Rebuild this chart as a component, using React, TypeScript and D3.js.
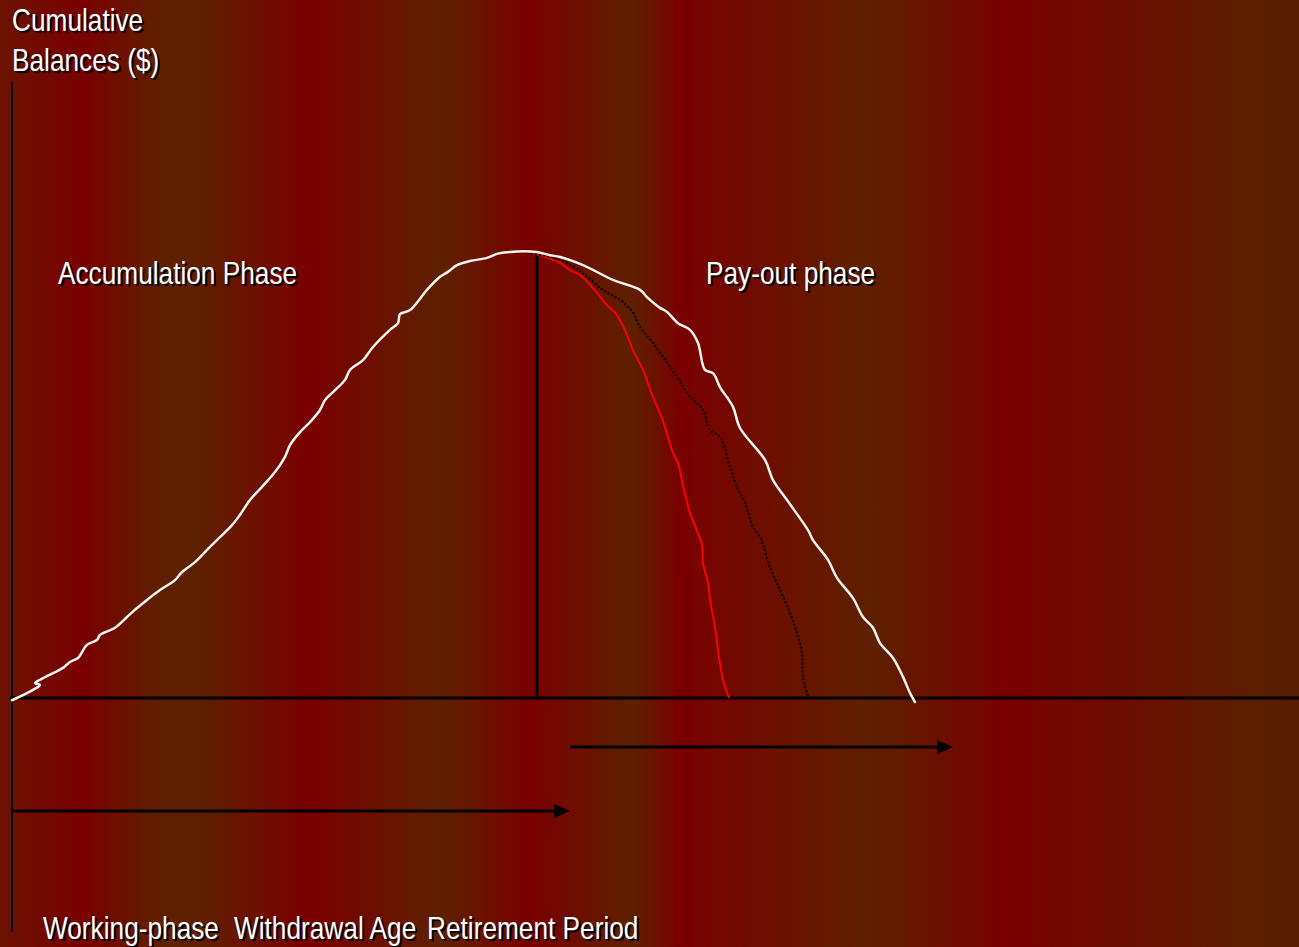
import React from "react";
import * as d3 from "d3";

const W = 1299;
const H = 947;

// Data: x = years since start of working life, y = cumulative balance (index, peak ≈ 100)
const accumulationAndPayout: [number, number][] = [
  [0, -0.5], [0.5, 0], [2.1, 1.8], [2.8, 2.9], [2.3, 3.3], [3.1, 4.4], [5.1, 6.7], [5.8, 8.0],
  [6.6, 8.9], [7.5, 11.8], [8.5, 12.9], [8.8, 14.0], [10.3, 15.6], [11.5, 18.0], [12.5, 20.0],
  [13.5, 21.8], [14.8, 24.0], [16.3, 26.2], [17.0, 28.0], [18.3, 30.2], [19.8, 33.6], [20.5, 35.1],
  [22.0, 38.4], [22.8, 40.7], [23.8, 44.0], [25.0, 46.9], [26.3, 50.2], [27.3, 53.6], [27.8, 56.2],
  [28.8, 59.1], [29.8, 61.3], [30.8, 64.0], [31.3, 66.2], [32.3, 68.4], [33.3, 70.7], [33.8, 72.9],
  [35.1, 75.1], [36.1, 78.0], [37.8, 81.8], [38.6, 83.3], [38.8, 85.3], [39.8, 86.2], [41.5, 90.7],
  [42.8, 93.6], [43.6, 94.7], [44.5, 96.2], [45.8, 97.1], [47.5, 97.8], [48.5, 98.7], [49.8, 99.1],
  [51.1, 99.3], [52.5, 99.1], [53.8, 98.4], [54.8, 98.0], [57.1, 96.2], [60.1, 92.9], [62.8, 90.7],
  [63.5, 89.1], [64.8, 86.7], [65.5, 85.8], [66.6, 83.3], [67.8, 81.8], [68.6, 78.9], [69.3, 72.9],
  [70.1, 72.2], [70.8, 69.1], [72.1, 64.7], [72.8, 60.0], [75.3, 52.9], [76.1, 48.4], [77.5, 44.0],
  [79.6, 37.3], [80.1, 35.1], [81.6, 30.7], [82.5, 26.7], [84.1, 22.2], [85.1, 18.0], [86.1, 15.6],
  [86.8, 12.2], [88.1, 8.9], [89.1, 4.7], [89.8, 1.1], [90.3, -0.9],
];

const fastDepletion: [number, number][] = [
  [51.8, 99.1], [52.8, 98.4], [54.8, 96.7], [55.8, 95.1], [56.8, 94.0], [58.1, 91.1], [59.5, 87.3],
  [60.5, 85.1], [61.5, 80.7], [62.1, 77.3], [63.1, 72.9], [64.1, 66.9], [65.0, 62.2], [65.3, 60.2],
  [66.1, 54.4], [66.6, 52.2], [67.1, 47.3], [67.8, 41.1], [69.0, 34.0], [69.1, 30.0], [69.6, 25.6],
  [69.8, 21.8], [70.3, 15.8], [70.6, 10.7], [71.1, 4.0], [71.7, 0],
];

const mediumDepletion: [number, number][] = [
  [51.5, 98.9], [53.8, 98.0], [55.5, 96.7], [57.1, 94.4], [59.1, 90.7], [61.1, 88.0], [62.1, 85.6],
  [62.8, 82.4], [64.1, 78.9], [65.8, 73.6], [67.8, 66.9], [69.1, 64.0], [69.8, 59.6], [70.8, 58.0],
  [71.8, 51.3], [72.5, 46.9], [73.3, 43.3], [74.1, 38.0], [74.8, 35.8], [75.8, 29.1], [76.8, 24.0],
  [77.8, 18.9], [78.5, 14.4], [79.0, 10.0], [79.1, 4.7], [79.6, 0.2],
];

const withdrawalAge = 52.5;
const peakBalance = 98.9;
const workingPhaseEnd = 55.8;
const retirementEnd = 94.1;

const yAxisTitle = ["Cumulative", "Balances ($)"];
const phaseLabels = ["Accumulation Phase", "Pay-out phase"];
const bottomLabels = ["Working-phase", "Withdrawal Age", "Retirement Period"];

const RED = "#7a0000";
const BROWN = "#5e2000";
const bgStops: [number, string][] = [
  [0, "#6c1200"], [83, RED], [160, BROWN], [195, BROWN], [310, RED], [440, BROWN],
  [530, RED], [633, BROWN], [680, RED], [870, BROWN], [1006, RED], [1250, "#5a1e00"], [1299, "#581c00"],
];

const FONT = "'Liberation Sans', Arial, sans-serif";

function ShadowText({ x, y, children }: { x: number; y: number; children: string }) {
  return (
    <g fontFamily={FONT} fontSize={32} transform={`translate(${x},${y}) scale(0.82,1)`}>
      <text x={2.4} y={2} fill="#000">{children}</text>
      <text x={0} y={0} fill="#fff">{children}</text>
    </g>
  );
}

export default function App() {
  const x = d3.scaleLinear().domain([0, 128.7]).range([12, 1299]);
  const y = d3.scaleLinear().domain([0, 100]).range([698, 248]);
  const line = d3
    .line<[number, number]>()
    .x((d) => x(d[0]))
    .y((d) => y(d[1]))
    .curve(d3.curveCatmullRom.alpha(0.5));

  const arrowLen = 16;
  const arrowHalf = 7;
  const arrowPath = (x2: number, yy: number) =>
    `M${x2 - arrowLen},${yy - arrowHalf}L${x2},${yy}L${x2 - arrowLen},${yy + arrowHalf}Z`;

  const workArrowY = 811;
  const retArrowY = 747;

  return (
    <svg
      width={W}
      height={H}
      style={{ position: "fixed", left: 0, top: 0, display: "block" }}
    >
      <defs>
        <linearGradient id="bg" gradientUnits="userSpaceOnUse" x1={0} y1={0} x2={W} y2={0}>
          {bgStops.map(([p, c], i) => (
            <stop key={i} offset={p / W} stopColor={c} />
          ))}
        </linearGradient>
      </defs>
      <rect x={0} y={0} width={W} height={H} fill="url(#bg)" />

      {/* axes */}
      <line x1={x(0)} y1={82} x2={x(0)} y2={932} stroke="#000" strokeWidth={2} />
      <line x1={x(0) - 2} y1={y(0)} x2={W} y2={y(0)} stroke="#000" strokeWidth={3} />

      {/* withdrawal age line */}
      <line x1={x(withdrawalAge)} y1={y(peakBalance)} x2={x(withdrawalAge)} y2={y(0)} stroke="#000" strokeWidth={3} />

      {/* curves */}
      <path d={line(fastDepletion) || ""} fill="none" stroke="#ff0000" strokeWidth={2} strokeLinejoin="round" />
      <path d={line(mediumDepletion) || ""} fill="none" stroke="#000" strokeWidth={2} strokeDasharray="2,2" />
      <path d={line(accumulationAndPayout) || ""} fill="none" stroke="#f8f4ee" strokeWidth={2.5} strokeLinejoin="round" strokeLinecap="round" />

      {/* arrows */}
      <line x1={x(0)} y1={workArrowY} x2={x(workingPhaseEnd) - arrowLen + 2} y2={workArrowY} stroke="#000" strokeWidth={3} />
      <path d={arrowPath(x(workingPhaseEnd), workArrowY)} fill="#000" />
      <line x1={x(workingPhaseEnd)} y1={retArrowY} x2={x(retirementEnd) - arrowLen + 2} y2={retArrowY} stroke="#000" strokeWidth={3} />
      <path d={arrowPath(x(retirementEnd), retArrowY)} fill="#000" />

      {/* texts */}
      <ShadowText x={12} y={31}>{yAxisTitle[0]}</ShadowText>
      <ShadowText x={12} y={71}>{yAxisTitle[1]}</ShadowText>
      <ShadowText x={58} y={284}>{phaseLabels[0]}</ShadowText>
      <ShadowText x={706} y={284}>{phaseLabels[1]}</ShadowText>
      <ShadowText x={43} y={939}>{bottomLabels[0]}</ShadowText>
      <ShadowText x={234} y={939}>{bottomLabels[1]}</ShadowText>
      <ShadowText x={427} y={939}>{bottomLabels[2]}</ShadowText>
    </svg>
  );
}
